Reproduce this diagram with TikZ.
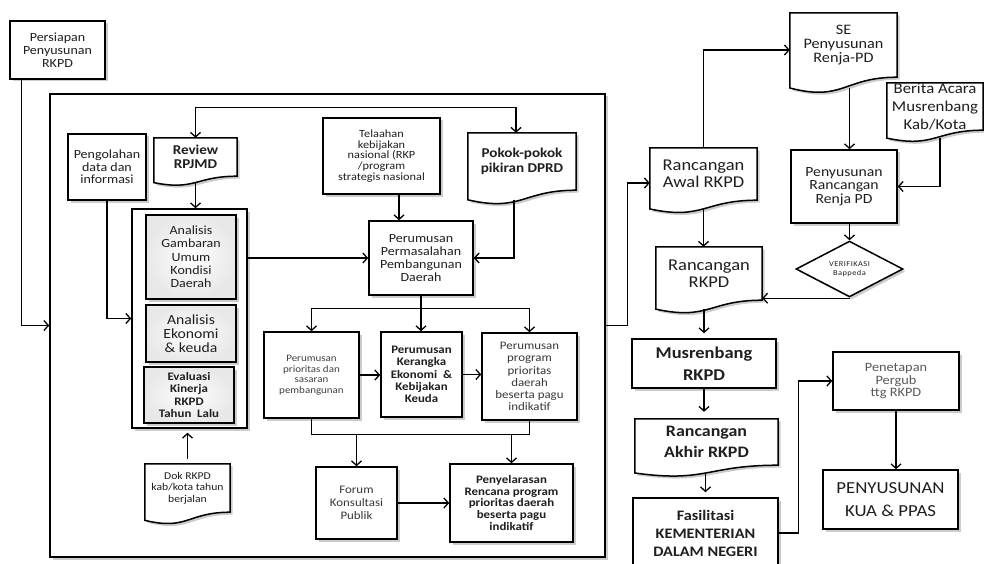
\documentclass[tikz,border=0pt]{standalone}
\usepackage{fontspec}
\setmainfont{Carlito}[FakeStretch=1.12]
\usetikzlibrary{arrows.meta,calc,shadows,shapes.geometric}
\pgfdeclarelayer{bottom}
\pgfdeclarelayer{docs}
\pgfsetlayers{bottom,docs,main}
\newcommand\fsz[2]{\fontsize{#1}{#2}\selectfont}
\newcommand\docoutline[1]{%
  \draw[docline] (#1.north west) -- (#1.north east) -- (#1.south east)
    .. controls (#1.south) and ($(#1.south)!-0.384!(#1.north)$) ..
    ($(#1.south west)!-0.1675!(#1.north west)$) -- cycle;
  \coordinate (#1-w) at ($(#1.south)!-0.165!(#1.north)$);}
\begin{document}
\begin{tikzpicture}[x=1pt,y=-1pt,
  shd/.style={drop shadow={shadow xshift=2.5pt,shadow yshift=-2.5pt,opacity=0.2,fill=black}},
  bx/.style={draw,line width=1.5pt,fill=white,align=center,inner sep=0pt,shd,text=black!88},
  gbx/.style={bx,inner color=white,outer color=black!9},
  docbox/.style={align=center,inner sep=0pt,text=black!88},
  docline/.style={draw,line width=1.5pt,fill=white,shd},
  ln/.style={line width=1.3pt},
  arr/.style={ln,-{Straight Barb[length=4.5pt,width=10pt]}},
  dbl/.style={ln,{Straight Barb[length=4.5pt,width=10pt]}-{Straight Barb[length=4.5pt,width=10pt]}}]
\useasboundingbox (0,0) rectangle (984,564);
\begin{pgfonlayer}{bottom}
\fill[white] (0,0) rectangle (984,564);
\node[bx,minimum width=555,minimum height=463] (frame) at (327.5,325.5) {};
\end{pgfonlayer}

% left part
\node[bx,minimum width=95,minimum height=58,font={\fsz{12.5}{13}}] (prs) at (57.5,50) {Persiapan\\Penyusunan\\RKPD};
\node[bx,minimum width=78,minimum height=66,font={\fsz{12.5}{12.5}}] (png) at (107,167) {Pengolahan\\data dan\\informasi};
\node[docbox,minimum width=83,minimum height=38,font={\fsz{13.5}{14}\bfseries}] (rev) at (195.5,157) {Review\\RPJMD};
\node[bx,minimum width=115,minimum height=219] (grp) at (189.5,318.5) {};
\node[gbx,minimum width=90,minimum height=84,font={\fsz{12.5}{13.3}}] (gam) at (191,257) {Analisis\\Gambaran\\Umum\\Kondisi\\Daerah};
\node[gbx,minimum width=90,minimum height=57,font={\fsz{14}{14}}] (eko) at (191,333.5) {Analisis\\Ekonomi\\\& keuda};
\node[gbx,minimum width=90,minimum height=56,font={\fsz{11.5}{12.5}\bfseries}] (eva) at (189,395) {Evaluasi\\Kinerja\\RKPD\\Tahun~ Lalu};
\node[docbox,minimum width=85,minimum height=48,font={\fsz{10.4}{11.5}}] (dok) at (187.5,488) {Dok RKPD\\kab/kota tahun\\berjalan};
\node[bx,minimum width=117,minimum height=76,font={\fsz{11}{10.8}}] (tel) at (381.5,156) {Telaahan\\kebijakan\\nasional (RKP\\/program\\strategis nasional};
\node[docbox,minimum width=108,minimum height=57,font={\fsz{13.5}{14.5}\bfseries}] (pok) at (522,161.5) {Pokok-pokok\\pikiran DPRD};
\node[bx,minimum width=104,minimum height=74,font={\fsz{12.5}{13.3}}] (per) at (421,258) {Perumusan\\Permasalahan\\Pembangunan\\Daerah};
\node[bx,minimum width=95,minimum height=86,font={\fsz{9.8}{10.5}},text=black!75] (pri) at (311.5,375) {Perumusan\\prioritas dan\\sasaran\\pembangunan};
\node[bx,minimum width=81,minimum height=85,font={\fsz{11.5}{12.3}\bfseries}] (ker) at (421.5,374.5) {Perumusan\\Kerangka\\Ekonomi~~\&\\Kebijakan\\Keuda};
\node[bx,minimum width=95,minimum height=87,font={\fsz{11.5}{12.3}},text=black!78] (prg) at (529.5,376.5) {Perumusan\\program\\prioritas\\daerah\\beserta pagu\\indikatif};
\node[bx,minimum width=81,minimum height=72,font={\fsz{11.5}{13}},text=black!78] (for) at (356.5,503) {Forum\\Konsultasi\\Publik};
\node[bx,minimum width=123,minimum height=78,font={\fsz{11.5}{11.7}\bfseries}] (pny) at (511.5,503) {Penyelarasan\\Rencana program\\prioritas daerah\\beserta pagu\\indikatif};

% right part
\node[docbox,minimum width=107,minimum height=52,font={\fsz{16.5}{17}}] (awl) at (703.5,174) {Rancangan\\Awal RKPD};
\node[docbox,minimum width=107,minimum height=64,font={\fsz{14.5}{14}}] (se) at (843.5,45) {SE\\Penyusunan\\Renja-PD};
\node[docbox,minimum width=96,minimum height=47,font={\fsz{15}{18}}] (ber) at (935,106.5) {Berita Acara\\Musrenbang\\Kab/Kota};
\node[bx,minimum width=106,minimum height=73,font={\fsz{14}{13.3}}] (ren) at (844,186.5) {Penyusunan\\Rancangan\\Renja PD};
\node[bx,diamond,minimum width=107,minimum height=52,font={\fsz{7.5}{9}\addfontfeature{LetterSpace=6}}] (dia) at (849.5,269) {VERIFIKASI\\Bappeda};
\node[docbox,minimum width=106,minimum height=53,font={\fsz{16.5}{17}}] (rkp) at (709,273.5) {Rancangan\\RKPD};
\node[bx,minimum width=144,minimum height=49,font={\fsz{16.5}{22}\bfseries}] (mus) at (704,363.5) {Musrenbang\\RKPD};
\node[docbox,minimum width=143,minimum height=46,font={\fsz{16}{21}\bfseries}] (akh) at (706.5,442) {Rancangan\\Akhir RKPD};
\node[bx,minimum width=145,minimum height=70,font={\fsz{14.5}{18}\bfseries}] (fas) at (705.5,533) {Fasilitasi\\KEMENTERIAN\\DALAM NEGERI};
\node[bx,minimum width=126,minimum height=58,font={\fsz{12.8}{12.5}},text=black!65] (pen) at (896,381) {Penetapan\\Pergub\\ttg RKPD};
\node[bx,minimum width=135,minimum height=59,font={\fsz{16.8}{23}}] (kua) at (890.5,499.5) {PENYUSUNAN\\KUA \& PPAS};

\begin{pgfonlayer}{docs}
\docoutline{rev}
\docoutline{dok}
\docoutline{pok}
\docoutline{awl}
\docoutline{se}
\docoutline{ber}
\docoutline{rkp}
\docoutline{akh}
\end{pgfonlayer}

% connectors left
\draw[arr] ([xshift=12pt]prs.south west) |- (frame.west);
\draw[arr] (png.south) |- (grp.west);
\draw[dbl] (rev.north) -- ++(0,-30) -| ([xshift=-6pt]pok.north);
\draw[arr] (rev-w) -- (rev-w |- grp.north);
\draw[arr,shorten >=4pt,shorten <=5pt] (dok.north) -- (dok.north |- grp.south);
\draw[arr] (per.west -| grp.east) -- (per.west);
\draw[arr] ([xshift=17.5pt]tel.south) -- ([xshift=17.5pt]tel.south |- per.north);
\draw[arr] ([xshift=-8pt]pok-w) |- (per.east);
\draw[arr] (per.south) -- ++(0,13) coordinate (sp) -| (pri.north);
\draw[arr] (sp) -| (prg.north);
\draw[arr] (sp) -- (sp |- ker.north);
\draw[arr] (pri.east) -- (pri.east -| ker.west);
\draw[arr] (ker.east) -- (ker.east -| prg.west);
\draw[ln] (pri.south) -- ++(0,16) coordinate (mg) -| (prg.south);
\draw[arr] (mg -| for.north) -- (for.north);
\draw[arr] (mg -| pny.north) -- (pny.north);
\draw[arr] (for.east) -- (for.east -| pny.west);

% connectors right
\draw[arr] (frame.east) -- ++(22,0) |- ([yshift=-9pt]awl.west);
\draw[arr] (awl.north) |- ([yshift=-5pt]se.west);
\draw[arr] (se-w -| dia.north) -- (ren.north -| dia.north);
\draw[arr] ([xshift=5pt]ber-w) |- (ren.east);
\draw[arr] (ren.south -| dia.north) -- (dia.north);
\draw[arr] (dia.south) |- ([yshift=2pt]rkp.south east);
\draw[arr] (awl-w) -- (awl-w |- rkp.north);
\draw[arr,shorten >=5pt] (mus.north |- rkp-w) -- (mus.north);
\draw[arr,shorten >=7pt] (mus.south) -- (mus.south |- akh.north);
\draw[arr,shorten >=5pt] (fas.north |- akh-w) -- (fas.north);
\draw[arr] (fas.east) -- ++(20,0) |- (pen.west);
\draw[arr] (pen.south) -- (pen.south |- kua.north);
\end{tikzpicture}
\end{document}
